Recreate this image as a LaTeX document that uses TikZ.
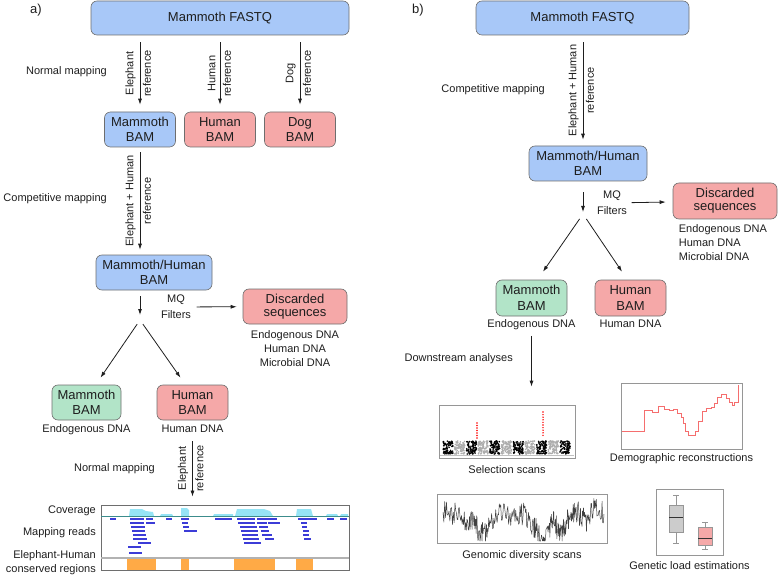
\documentclass[tikz,border=0pt]{standalone}
\usepackage{fontspec}
\setmainfont{Liberation Sans}
\usetikzlibrary{arrows.meta, positioning, calc}
\definecolor{mmblue}{RGB}{168, 200, 248}
\definecolor{mmpink}{RGB}{245, 168, 168}
\definecolor{mmgreen}{RGB}{178, 228, 200}
\definecolor{mmborder}{RGB}{110, 110, 110}
\definecolor{mmtext}{RGB}{30, 30, 30}
\definecolor{mmcov}{RGB}{150, 228, 245}
\definecolor{mmteal}{RGB}{60, 140, 140}
\definecolor{mmread}{RGB}{60, 60, 215}
\definecolor{mmorange}{RGB}{255, 170, 70}
\definecolor{mmdemo}{RGB}{245, 110, 110}
\definecolor{mmframe}{RGB}{150, 150, 150}
\newcommand{\mmboxfont}{\fontsize{13}{15.5}\selectfont}
\newcommand{\mmsmall}{\fontsize{11}{14}\selectfont}

\begin{document}
\begin{tikzpicture}[
  x=1pt, y=-1pt,
  box/.style={rectangle, rounded corners=6pt, draw=mmborder, line width=0.6pt,
              minimum height=35pt, align=center, inner sep=0pt,
              font=\mmboxfont, text=mmtext},
  bluebox/.style={box, fill=mmblue},
  pinkbox/.style={box, fill=mmpink},
  greenbox/.style={box, fill=mmgreen},
  note/.style={font=\mmsmall, text=mmtext, inner sep=0pt, align=center},
  arrow/.style={-{Latex[length=6pt,width=4pt]}, line width=0.8pt, color=mmtext},
  leftref/.style={midway, above, rotate=90, font=\mmsmall, text=mmtext, inner sep=4pt},
  rightref/.style={midway, below, rotate=90, font=\mmsmall, text=mmtext, inner sep=2.5pt},
  plotframe/.style={draw=mmframe, line width=0.7pt, inner sep=0pt},
  read/.style={mmread, line width=1.1pt},
]
  \useasboundingbox (0,0) rectangle (778,577);

  % a)
  \node[font=\mmboxfont, text=mmtext] (labA) at (36,10) {a)};
  \node[bluebox, minimum width=258pt, minimum height=34pt] (fastqA) at (220,18) {Mammoth FASTQ};
  \node[bluebox, minimum width=71pt] (mamA) at (140,129.5) {Mammoth\\BAM};
  \node[pinkbox, minimum width=71pt] (humA) at (220,129.5) {Human\\BAM};
  \node[pinkbox, minimum width=71pt] (dogA) at (300,129.5) {Dog\\BAM};
  \node[note, anchor=east] (normA) at (107,72) {Normal mapping};

  \draw[arrow, shorten <=7pt, shorten >=7pt] (fastqA.south -| mamA.north) -- (mamA.north)
    node[leftref]{Elephant} node[rightref]{reference};
  \draw[arrow, shorten <=7pt, shorten >=7pt] (fastqA.south -| humA.north) -- (humA.north)
    node[leftref]{Human} node[rightref]{reference};
  \draw[arrow, shorten <=7pt, shorten >=7pt] (fastqA.south -| dogA.north) -- (dogA.north)
    node[leftref]{Dog} node[rightref]{reference};

  \node[bluebox, minimum width=116pt] (mhA) at (154,272.5) {Mammoth/Human\\BAM};
  \node[note, anchor=east] (compA) at (107,199) {Competitive mapping};
  \draw[arrow, shorten <=5pt, shorten >=5pt] (mamA.south) -- (mamA.south |- mhA.north)
    node[leftref]{Elephant + Human} node[rightref]{reference};

  \coordinate (splitA) at (140,320);
  \draw[arrow, shorten <=6pt, shorten >=5pt] (mhA.south -| splitA) -- (splitA);
  \node[note] (mqA) at (176,307) {MQ\\[2pt]Filters};
  \node[pinkbox, minimum width=104pt] (discA) at (295,306.5) {Discarded\\[-2.5pt]sequences};
  \draw[arrow, shorten <=5.5pt, shorten >=6pt] (mqA) -- (discA);
  \node[note, below=6pt of discA] (discTxtA) {Endogenous DNA\\Human DNA\\Microbial DNA};

  \node[greenbox, minimum width=69pt] (endoA) at (86.5,402.5) {Mammoth\\BAM};
  \node[pinkbox, minimum width=71pt] (humBamA) at (192.5,402.5) {Human\\BAM};
  \node[note, below=4pt of endoA] (endoTxtA) {Endogenous DNA};
  \node[note, below=4pt of humBamA] (humTxtA) {Human DNA};
  \draw[arrow, shorten <=5pt] (splitA) -- ([xshift=14pt,yshift=7pt]endoA.north);
  \draw[arrow, shorten <=5pt] (splitA) -- ([xshift=-12pt,yshift=7pt]humBamA.north);

  \node[draw=mmborder, line width=0.9pt, minimum width=248pt, minimum height=65pt, inner sep=0pt] (igv) at (225,537.5) {};
  \node[note, anchor=east] (normA2) at (155,469) {Normal mapping};
  \draw[arrow, shorten <=9pt, shorten >=8pt] (humTxtA.south) -- (humTxtA.south |- igv.north)
    node[leftref]{Elephant} node[rightref]{reference};

  \fill[mmcov] (129,516) -- (130,509) -- (142,509) -- (146,511) -- (153,512) -- (154,516) -- cycle;
  \fill[mmcov] (160,516) -- (161,514) -- (172,514) -- (173,516) -- cycle;
  \fill[mmcov] (181,516) -- (181,508) -- (187,508) -- (189,510) -- (189,516) -- cycle;
  \fill[mmcov] (213,516) -- (214,514) -- (233,514) -- (233,516) -- cycle;
  \fill[mmcov] (235,516) -- (237,509) -- (264,509) -- (270,511) -- (273,516) -- cycle;
  \fill[mmcov] (296,516) -- (297,509) -- (311,509) -- (313,516) -- cycle;
  \fill[mmcov] (326,516) -- (327,514) -- (337,514) -- (338,516) -- cycle;
  \fill[mmcov] (340,516) -- (341,514) -- (348,514) -- (348,516) -- cycle;
  \draw[mmteal, line width=0.8pt] (101,516) -- (349,516);
  \foreach \xa/\xb/\yy in {110/116/519, 130/144/519, 146/153/519, 166/172/519, 181/189/519,
      215/232/519, 237/255/519, 257/277/519, 298/317/519, 327/334/519, 340/347/519,
      130/144/523, 146/155/523, 182/188/523, 238/255/523, 257/267/523, 268/280/523, 301/307/523,
      131/145/527, 183/189/527, 240/257/527, 259/268/527, 302/307/527,
      132/145/531, 184/197/531, 241/258/531, 261/269/531, 303/309/531,
      133/146/535, 242/258/535, 262/272/535, 303/309/535,
      133/147/539, 243/259/539, 265/274/539, 304/311/539,
      138/151/543, 244/261/543, 128/141/547, 129/142/553}
    \draw[read] (\xa,\yy) -- (\xb,\yy);
  \draw[gray!60, line width=1.2pt] (101,558) -- (349,558);
  \foreach \xa/\xb in {127/156, 181/189, 234/275, 296/313}
    \fill[mmorange] (\xa,559) rectangle (\xb,569.5);
  \node[note, anchor=east] (covLab) at (96,511) {Coverage};
  \node[note, anchor=east] (readLab) at (96,533) {Mapping reads};
  \node[note, anchor=east, align=right] (consLab) at (96,563) {Elephant-Human\\conserved regions};

  % b)
  \node[font=\mmboxfont, text=mmtext] (labB) at (418,10) {b)};
  \node[bluebox, minimum width=213pt, minimum height=34pt] (fastqB) at (582.5,18) {Mammoth FASTQ};
  \node[bluebox, minimum width=118pt] (mhB) at (588,163.5) {Mammoth/Human\\BAM};
  \coordinate (splitB) at (583,214);
  \draw[arrow, shorten <=7pt, shorten >=6pt] (fastqB.south -| splitB) -- (mhB.north -| splitB)
    node[leftref]{Elephant + Human} node[rightref]{reference};
  \node[note, anchor=east] (compB) at (545,90) {Competitive mapping};

  \draw[arrow, shorten <=11pt, shorten >=2pt] (mhB.south -| splitB) -- (splitB);
  \node[note] (mqB) at (612,203) {MQ\\[2pt]Filters};
  \node[pinkbox, minimum width=104pt, minimum height=36pt] (discB) at (725,201) {Discarded\\[-2.5pt]sequences};
  \draw[arrow, shorten <=4.5pt, shorten >=7pt] (mqB) -- (discB);
  \node[note, anchor=north west, align=left] (discTxtB) at ([xshift=6pt,yshift=-5pt]discB.south west)
    {Endogenous DNA\\Human DNA\\Microbial DNA};

  \node[greenbox, minimum width=71pt, minimum height=36pt] (endoB) at (531.5,298) {Mammoth\\BAM};
  \node[pinkbox, minimum width=71pt, minimum height=36pt] (humBamB) at (630.5,298) {Human\\BAM};
  \node[note, below=3pt of endoB] (endoTxtB) {Endogenous DNA};
  \node[note, below=3pt of humBamB] (humTxtB) {Human DNA};
  \draw[arrow, shorten <=6pt] (splitB) -- ([xshift=11.5pt,yshift=8pt]endoB.north);
  \draw[arrow, shorten <=6pt] (splitB) -- ([xshift=-8.5pt,yshift=8pt]humBamB.north);

  \node[plotframe, minimum width=136pt, minimum height=53pt] (selScan) at (507,431.5) {};
  \node[plotframe, minimum width=121pt, minimum height=66pt] (demog) at (681.5,416) {};
  \node[plotframe, minimum width=170pt, minimum height=49pt] (gdiv) at (522,518.5) {};
  \node[plotframe, minimum width=67pt, minimum height=66pt] (gload) at (689.5,522) {};
  \node[note, anchor=east] (downB) at (513,359) {Downstream analyses};
  \draw[arrow, shorten <=6pt, shorten >=18pt] (endoTxtB.south) -- (endoTxtB.south |- selScan.north);

  \node[note, below=7pt of selScan] (selLab) {Selection scans};
  \node[note, below=4pt of demog] (demLab) {Demographic reconstructions};
  \node[note, below=7pt of gdiv] (gdivLab) {Genomic diversity scans};
  \node[note, below=6pt of gload] (gloadLab) {Genetic load estimations};

  \pgfmathsetseed{12}
  \draw[mmframe!60] (440,455.5) -- (574,455.5);
  \foreach \c in {0,...,10} {
    \ifodd\c \def\mmdot{gray!65}\else\def\mmdot{black}\fi
    \foreach \k in {1,...,90}
      \fill[\mmdot] ({443+\c*11.7+rnd*10},{441+rnd*13}) circle (0.9);
  }
  \foreach \yy in {423,425.5,...,438} \fill[red] (477,\yy) circle (0.8);
  \foreach \yy in {412,414.6,...,437} \fill[red] (543,\yy) circle (0.8);

  \draw[mmdemo, line width=0.8pt] (622,431) -| (644,410) -| (652,412) -| (658,406) -| (664,409)
    -| (669,410) -| (673,409) -| (677,413) -| (681,417) -| (683,423) -| (685,431) -| (688,435)
    -| (695,431) -| (698,421) -| (702,411) -| (706,408) -| (711,407) -| (714,403) -| (717,397)
    -| (721,394) -| (726,398) -| (729,402) -| (732,405) -| (734,402) -| (738,385);

  \pgfmathsetseed{5}
  \draw[black!75, line width=0.5pt, line join=round] (443,512)
    \foreach \xa/\ya [remember=\xa as \xp (initially 443), remember=\ya as \yp (initially 512)] in
      {455/514, 465/518, 474/522, 480/535, 487/528, 495/514, 505/516, 515/512, 525/515,
       533/524, 540/536, 547/538, 552/520, 556/524, 560/538, 565/524, 572/510, 580/514,
       587/520, 595/508, 604/512} {
      \foreach \k in {1,...,14} {
        -- ({\xp+(\xa-\xp)*\k/14}, {min(541,max(497,\yp+(\ya-\yp)*\k/14+24*rnd-12))})
      }
    };

  \draw[mmframe] (676,495) -- (676,505) (676,532) -- (676,543) (673,495) -- (679,495) (673,543) -- (679,543);
  \draw[mmframe, fill=gray!40] (669,505) rectangle (683,532);
  \draw[black!80, line width=0.9pt] (669,517) -- (683,517);
  \draw[mmframe] (705,522) -- (705,527) (705,545) -- (705,549) (702,522) -- (708,522) (702,549) -- (708,549);
  \draw[mmframe, fill=mmpink] (698,527) rectangle (712,545);
  \draw[black!80, line width=0.9pt] (698,538) -- (712,538);
\end{tikzpicture}
\end{document}
